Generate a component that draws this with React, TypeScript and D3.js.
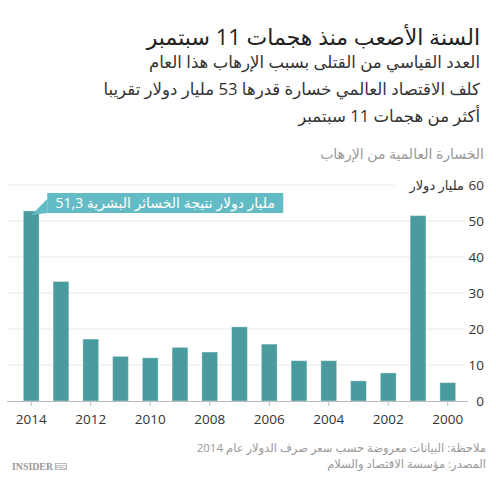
import { scaleBand, scaleLinear } from 'd3';

const years = [2014, 2013, 2012, 2011, 2010, 2009, 2008, 2007, 2006, 2005, 2004, 2003, 2002, 2001, 2000];
const losses = [52.8, 33.2, 17.2, 12.4, 12.0, 14.9, 13.6, 20.6, 15.8, 11.2, 11.2, 5.6, 7.8, 51.5, 5.1];
const yTicks = [0, 10, 20, 30, 40, 50, 60];
const xTickYears = [2014, 2012, 2010, 2008, 2006, 2004, 2002, 2000];

const title = 'السنة الأصعب منذ هجمات 11 سبتمبر';
const subtitleLines = [
  'العدد القياسي من القتلى بسبب الإرهاب هذا العام',
  'كلف الاقتصاد العالمي خسارة قدرها 53 مليار دولار تقريبا',
  'أكثر من هجمات 11 سبتمبر',
];
const chartLabel = 'الخسارة العالمية من الإرهاب';
const unitLabel = 'مليار دولار';
const annotationText = 'مليار دولار نتيجة الخسائر البشرية 51,3';
const noteLines = [
  'ملاحظة: البيانات معروضة حسب سعر صرف الدولار عام 2014',
  'المصدر:  مؤسسة الاقتصاد والسلام',
];

const font = "'Open Sans', 'DejaVu Sans', sans-serif";

export default function App() {
  const width = 496;
  const height = 479;
  const gridLeft = 7;
  const gridRight = 465;
  const right = 484;

  const x = scaleBand<number>()
    .domain(years)
    .range([18, 461])
    .paddingInner(0.47)
    .paddingOuter(0.18);
  const y = scaleLinear().domain([0, 60]).range([401, 185]);

  const tipX = (x(2014) || 0) + x.bandwidth() / 2;
  const tipY = y(losses[0]) + 4;
  const boxX = tipX + 16;
  const boxW = 236;
  const boxY = 193;
  const boxH = 20;

  return (
    <svg
      width={width}
      height={height}
      style={{ position: 'absolute', left: 0, top: 0, background: '#fff' }}
      fontFamily={font}
    >
      <text x={right - 4} y={45} direction="rtl" textAnchor="start" fontSize={22} fill="#222">
        {title}
      </text>
      {subtitleLines.map((line, i) => (
        <text
          key={line}
          x={right - 4}
          y={68 + i * 27}
          direction="rtl"
          textAnchor="start"
          fontSize={16.6}
          fill="#333"
        >
          {line}
        </text>
      ))}
      <text x={right} y={159} direction="rtl" textAnchor="start" fontSize={14} fill="#999">
        {chartLabel}
      </text>

      {yTicks.map((t) => (
        <g key={t}>
          {t > 0 && (
            <line
              x1={gridLeft}
              x2={t === 60 ? 394 : gridRight}
              y1={y(t)}
              y2={y(t)}
              stroke="#e8e8e8"
              strokeWidth={1}
            />
          )}
          <text x={right} y={y(t) + 5} textAnchor="end" fontSize={13.5} fill="#333">
            {t}
          </text>
        </g>
      ))}
      <text x={464} y={y(60) + 5} direction="rtl" textAnchor="start" fontSize={13} fill="#333">
        {unitLabel}
      </text>

      {years.map((yr, i) => (
        <rect
          key={yr}
          x={x(yr)}
          y={y(losses[i])}
          width={x.bandwidth()}
          height={y(0) - y(losses[i])}
          fill="#4a9b9e"
          stroke="#ffffff"
          strokeOpacity={0.35}
          strokeWidth={1}
        />
      ))}

      <line x1={gridLeft} x2={468} y1={y(0) + 0.5} y2={y(0) + 0.5} stroke="#bbb" strokeWidth={1} />
      {xTickYears.map((yr) => {
        const cx = (x(yr) || 0) + x.bandwidth() / 2;
        return (
          <g key={yr}>
            <line x1={cx} x2={cx} y1={y(0) + 1} y2={y(0) + 5} stroke="#bbb" />
            <text x={cx} y={424} textAnchor="middle" fontSize={13.5} fill="#333">
              {yr}
            </text>
          </g>
        );
      })}

      <path
        d={`M${boxX},${boxY + 6} L${boxX},${boxY + boxH} L${tipX},${tipY} Z`}
        fill="#63bcc5"
      />
      <rect x={boxX} y={boxY} width={boxW} height={boxH} fill="#63bcc5" />
      <text
        x={boxX + boxW / 2}
        y={boxY + 15}
        direction="rtl"
        textAnchor="middle"
        fontSize={14}
        fill="#fff"
      >
        {annotationText}
      </text>

      {noteLines.map((line, i) => (
        <text
          key={line}
          x={486}
          y={452 + i * 16}
          direction="rtl"
          textAnchor="start"
          fontSize={11.5}
          fill="#999"
        >
          {line}
        </text>
      ))}

      <text
        x={12}
        y={470}
        fontFamily="'Liberation Serif', serif"
        fontWeight="bold"
        fontSize={10.5}
        fill="#999"
        textLength={41}
        lengthAdjust="spacingAndGlyphs"
      >
        INSIDER
      </text>
      <rect x={55.5} y={463.5} width={11} height={6} fill="none" stroke="#aaa" strokeWidth={0.8} />
      <text x={61} y={468.5} textAnchor="middle" fontSize={5} fill="#999" fontFamily="'Liberation Sans', sans-serif">
        PRO
      </text>
    </svg>
  );
}
